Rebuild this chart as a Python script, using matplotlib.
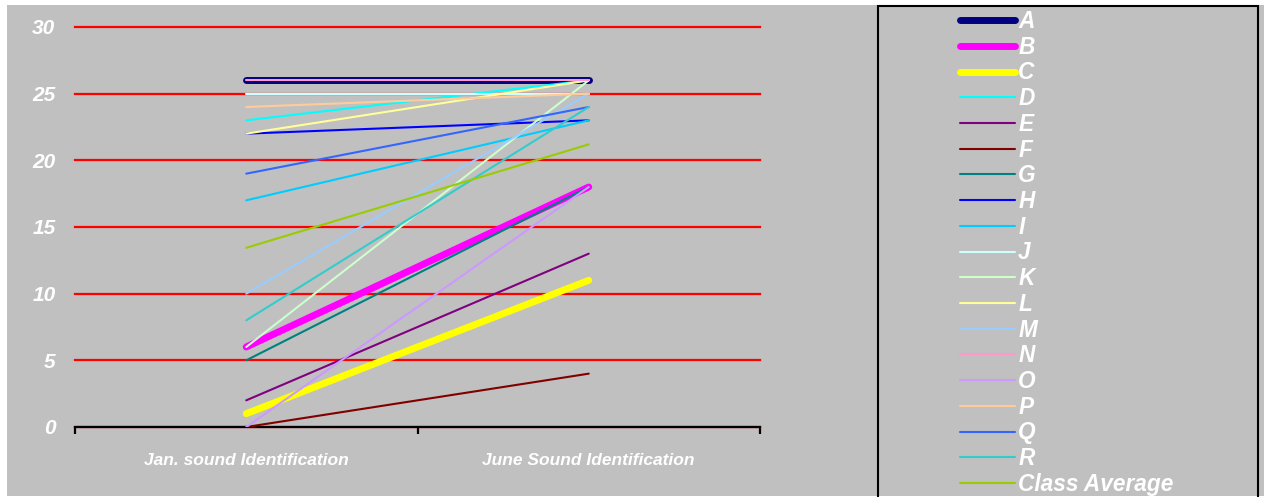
import matplotlib.pyplot as plt
from matplotlib.lines import Line2D
from matplotlib.patches import Rectangle

# data
periods = ["Jan. sound Identification", "June Sound Identification"]
students = ["A", "B", "C", "D", "E", "F", "G", "H", "I",
            "J", "K", "L", "M", "N", "O", "P", "Q", "R", "Class Average"]
jan_scores = [26, 6, 1, 23, 2, 0, 5, 22, 17, 25, 6, 22, 10, 26, 0, 24, 19, 8, 13.44]
june_scores = [26, 18, 11, 26, 13, 4, 18, 23, 23, 25, 26, 26, 25, 26, 18, 25, 24, 24, 21.2]
colors = ["#000080", "#FF00FF", "#FFFF00", "#00FFFF", "#800080", "#800000",
          "#008080", "#0000FF", "#00CCFF", "#CCFFFF", "#CCFFCC", "#FFFF99",
          "#99CCFF", "#FF99CC", "#CC99FF", "#FFCC99", "#3366FF", "#33CCCC",
          "#99CC00"]
widths = [5, 5, 5] + [1.5] * 16

W, H = 1264, 497
fig = plt.figure(figsize=(W / 100, H / 100), dpi=100, facecolor="white")
fig.patches.append(Rectangle((7 / W, 1 / H), 1, 1 - 6 / H, transform=fig.transFigure,
                             facecolor="#C0C0C0", edgecolor="none", zorder=-10))

ax = fig.add_axes([75 / W, 1 - 427 / H, (760 - 75) / W, 400 / H])
ax.set_facecolor("none")

for i in range(len(students)):
    ax.plot([0, 1], [jan_scores[i], june_scores[i]], color=colors[i],
            lw=widths[i], solid_capstyle="round", label=students[i], zorder=3)

ax.set_xlim(-0.5, 1.5)
ax.set_ylim(0, 30)
ax.set_yticks(range(0, 31, 5))
ax.set_yticklabels([str(v) for v in range(0, 31, 5)], family="Liberation Sans",
                   weight="bold", style="italic", size=15)
ax.set_xticks([0, 1])
ax.set_xticks([-0.5, 0.5, 1.5], minor=True)
ax.set_xticklabels(periods, family="Liberation Sans", weight="bold", style="italic",
                   size=12.5)
ax.grid(axis="y", color="red", lw=1.6, zorder=1)
for gl in ax.get_ygridlines():
    gl.set_clip_on(False)
ax.set_axisbelow(True)
for s in ["left", "right", "top"]:
    ax.spines[s].set_visible(False)
ax.spines["bottom"].set_color("black")
ax.spines["bottom"].set_linewidth(1.6)
ax.spines["bottom"].set_zorder(2)
ax.tick_params(axis="y", length=0, pad=14, labelcolor="white")
ax.tick_params(axis="x", which="major", length=0, pad=19, labelcolor="white")
ax.tick_params(axis="x", which="minor", length=5, width=1.6, direction="out", color="black")

# legend box
fig.patches.append(Rectangle((878 / W, -0.05), (1258 - 878) / W, 1 - 6 / H + 0.05,
                             transform=fig.transFigure, facecolor="none",
                             edgecolor="black", lw=1.5, zorder=5))
handles = [Line2D([], [], color=colors[i], lw=widths[i], solid_capstyle="round")
           for i in range(len(students))]
leg = fig.legend(handles, students, loc="upper left",
                 bbox_to_anchor=(960 / W, 1 - 10 / H), frameon=False,
                 prop={"family": "Liberation Sans", "weight": "bold",
                       "style": "italic", "size": 16.3},
                 handlelength=2.43, handletextpad=0.14, labelspacing=0.12,
                 borderpad=0, borderaxespad=0)
for t in leg.get_texts():
    t.set_color("white")

fig.savefig("out.png", dpi=100, facecolor=fig.get_facecolor())
